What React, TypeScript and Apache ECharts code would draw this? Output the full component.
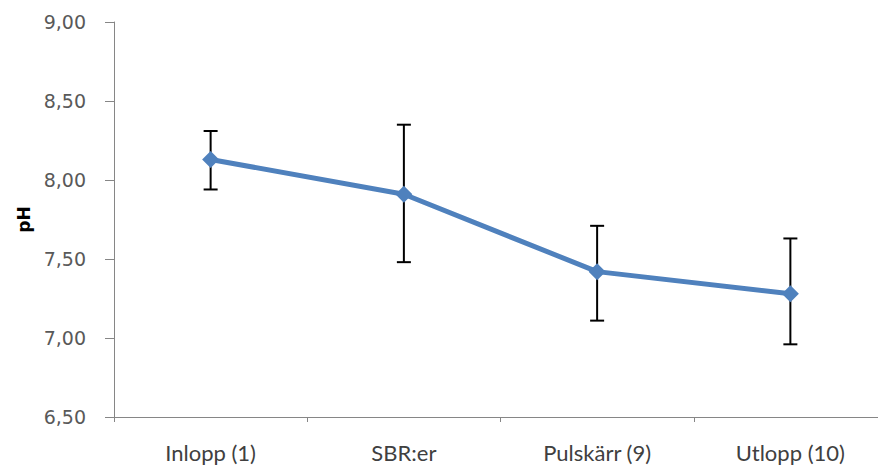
import React, { useEffect, useRef } from "react";
import * as echarts from "echarts";

const categories = ["Inlopp (1)", "SBR:er", "Pulskärr (9)", "Utlopp (10)"];
const meanPH = [8.13, 7.91, 7.42, 7.28];
const upperPH = [8.31, 8.35, 7.71, 7.63];
const lowerPH = [7.94, 7.48, 7.11, 6.96];
const yTicks = [6.5, 7.0, 7.5, 8.0, 8.5, 9.0];

export default function App() {
  const ref = useRef<HTMLDivElement>(null);
  useEffect(() => {
    if (!ref.current) return;
    const chart = echarts.init(ref.current, null, { renderer: "svg" });
    const errData = categories.map((_, i) => [i, lowerPH[i], upperPH[i]]);
    chart.setOption({
      animation: false,
      backgroundColor: "#ffffff",
      grid: { left: 114, top: 22, width: 773, height: 395 },
      xAxis: {
        type: "category",
        data: categories,
        boundaryGap: true,
        axisLine: { lineStyle: { color: "#868686", width: 1 } },
        axisTick: { show: true, length: 5, lineStyle: { color: "#868686" } },
        axisLabel: {
          color: "#404040",
          fontFamily: "Lato, sans-serif",
          fontSize: 22,
          margin: 24,
        },
      },
      yAxis: {
        type: "value",
        min: yTicks[0],
        max: yTicks[yTicks.length - 1],
        interval: 0.5,
        name: "pH",
        nameLocation: "middle",
        nameGap: 80,
        nameRotate: 90,
        nameTextStyle: {
          color: "#000000",
          fontWeight: "bold",
          fontSize: 17,
          fontFamily: "DejaVu Sans, sans-serif",
        },
        axisLine: { show: true, lineStyle: { color: "#868686", width: 1 } },
        axisTick: { show: true, length: 9, lineStyle: { color: "#868686" } },
        splitLine: { show: false },
        axisLabel: {
          color: "#595959",
          fontFamily: "DejaVu Sans, sans-serif",
          fontSize: 19,
          margin: 28,
          formatter: (v: number) => v.toFixed(2).replace(".", ","),
        },
      },
      series: [
        {
          type: "line",
          data: meanPH,
          symbol: "diamond",
          symbolSize: 17,
          lineStyle: { color: "#4f81bd", width: 5 },
          itemStyle: { color: "#4f81bd" },
          z: 3,
        },
        {
          type: "custom",
          data: errData,
          encode: { x: 0, y: [1, 2] },
          z: 2,
          renderItem: (params: any, api: any) => {
            const idx = api.value(0);
            const lo = api.coord([idx, api.value(1)]);
            const hi = api.coord([idx, api.value(2)]);
            const hw = 7;
            const style = { stroke: "#000000", lineWidth: 2 };
            return {
              type: "group",
              children: [
                { type: "line", shape: { x1: hi[0], y1: hi[1], x2: lo[0], y2: lo[1] }, style },
                { type: "line", shape: { x1: hi[0] - hw, y1: hi[1], x2: hi[0] + hw, y2: hi[1] }, style },
                { type: "line", shape: { x1: lo[0] - hw, y1: lo[1], x2: lo[0] + hw, y2: lo[1] }, style },
              ],
            };
          },
        },
      ],
    });
    return () => chart.dispose();
  }, []);
  return (
    <div style={{ position: "absolute", left: 0, top: 0, width: 878, height: 465, overflow: "hidden" }}>
      <div ref={ref} style={{ width: 895, height: 465 }} />
    </div>
  );
}
